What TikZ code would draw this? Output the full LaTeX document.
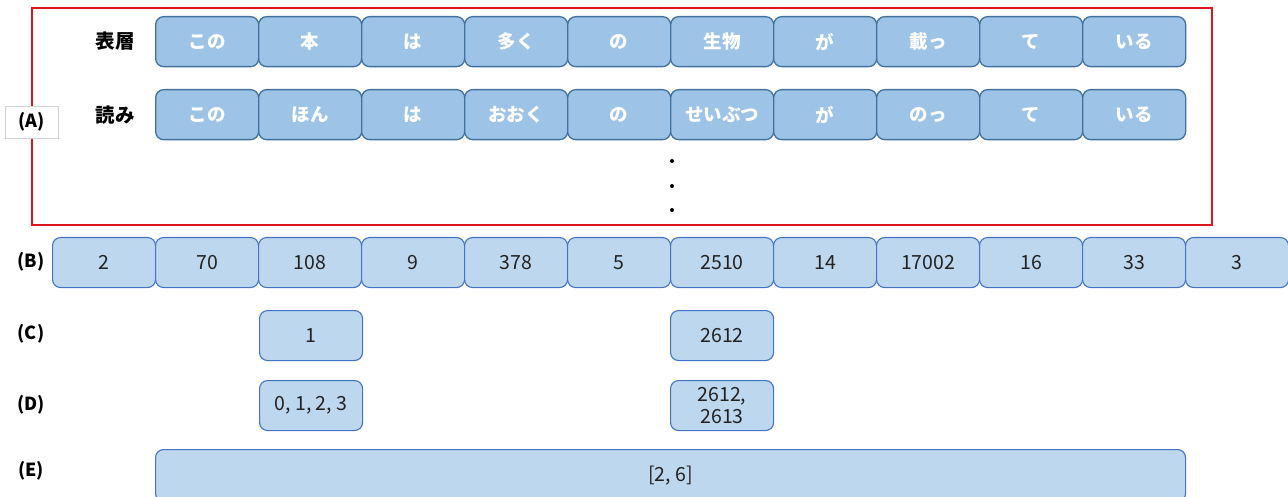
\documentclass[tikz,border=0pt]{standalone}
\usepackage{fontspec}
\setmainfont{Noto Sans CJK JP}
\definecolor{topfill}{HTML}{9DC3E6}
\definecolor{topline}{HTML}{41719C}
\definecolor{numfill}{HTML}{BDD7EE}
\definecolor{numline}{HTML}{4472C4}
\definecolor{numtext}{HTML}{222222}
\definecolor{redline}{HTML}{E0141E}
\tikzset{
  wordbox/.style={draw=topline, fill=topfill, line width=1.3pt, rounded corners=8pt,
    minimum width=103pt, minimum height=50pt, inner sep=0pt, anchor=north west,
    text=white, font=\fontsize{18.5}{20}\selectfont\bfseries},
  numbox/.style={draw=numline, fill=numfill, line width=1.1pt, rounded corners=8pt,
    minimum width=103pt, minimum height=50pt, inner sep=0pt, anchor=north west,
    text=numtext, font=\fontsize{19.5}{20}\selectfont, align=center},
  rowlabel/.style={font=\fontsize{18}{20}\selectfont\bfseries, text=black, inner sep=0pt},
}
\begin{document}
\begin{tikzpicture}[x=1pt,y=-1pt]
\useasboundingbox (0,0) rectangle (1288,497);
% red frame
\draw[redline, line width=2.5pt] (32,8) rectangle (1212,225);
\node[draw={rgb,255:red,210;green,210;blue,210}, fill=white, line width=0.8pt, minimum width=53pt, minimum height=32pt, inner sep=0pt, font=\fontsize{18}{20}\selectfont\bfseries] (labA) at (31.5,122) {(A)};
% row labels
\node[rowlabel, font=\fontsize{19.5}{20}\selectfont\bfseries] (surf) at (115,41) {表層};
\node[rowlabel, font=\fontsize{19.5}{20}\selectfont\bfseries] (read) at (115,115) {読み};
% surface row
\foreach \w [count=\i from 0] in {この,本,は,多く,の,生物,が,載っ,て,いる}{
  \node[wordbox] (s\i) at ({155+103*\i},16) {\w};
}
\foreach \w [count=\i from 0] in {この,ほん,は,おおく,の,せいぶつ,が,のっ,て,いる}{
  \node[wordbox] (r\i) at ({155+103*\i},89) {\w};
}
% dots
\foreach \y in {161,186,210}{ \fill (672,\y) circle (2pt); }
% B row
\node[rowlabel] (labB) at (31,262) {(B)};
\foreach \w [count=\i from 0] in {2,70,108,9,378,5,2510,14,17002,16,33,3}{
  \node[numbox] (b\i) at ({52+103*\i},237) {\w};
}
% C row
\node[rowlabel] (labC) at (31,334) {(C)};
\node[numbox] (c1) at (259,310) {1};
\node[numbox] (c2) at (670,310) {2612};
% D row
\node[rowlabel] (labD) at (31,405) {(D)};
\node[numbox] (d1) at (259,380) {0, 1, 2, 3};
\node[numbox, font=\fontsize{19.5}{22}\selectfont] (d2) at (670,380) {2612,\\2613};
% E row
\node[rowlabel] (labE) at (31,471) {(E)};
\node[numbox, minimum width=1030pt, minimum height=52pt] (e1) at (155,449) {[2, 6]};
\end{tikzpicture}
\end{document}
